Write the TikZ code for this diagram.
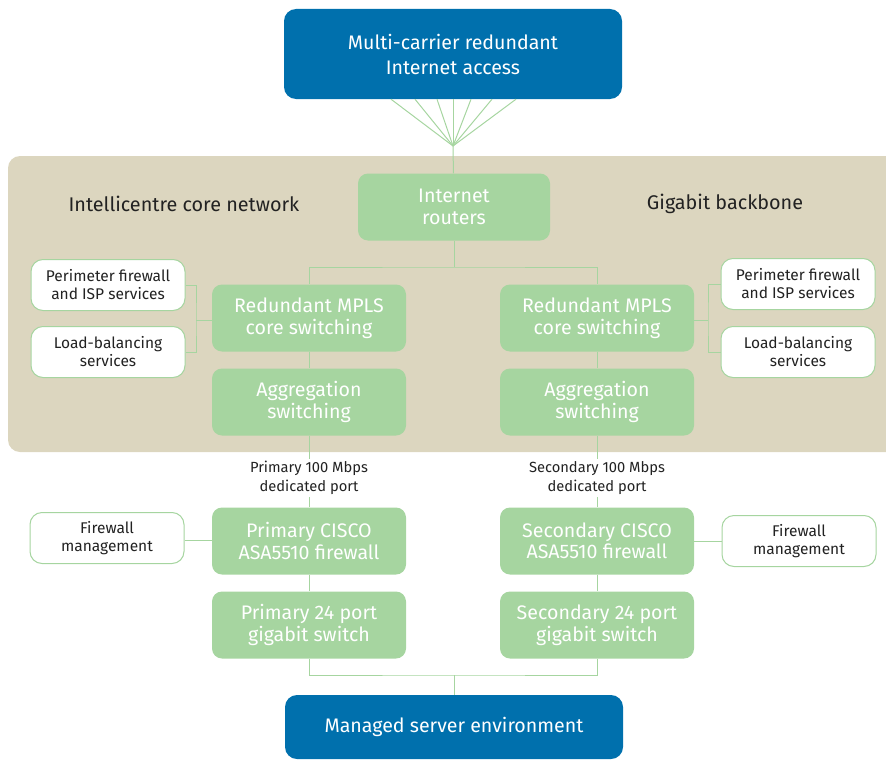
\documentclass[tikz,border=0pt]{standalone}
\usepackage{fontspec}
\setmainfont{Fira Sans}
\usetikzlibrary{positioning}
\definecolor{carrierblue}{HTML}{0070AD}
\definecolor{boxgreen}{HTML}{A6D5A0}
\definecolor{coretan}{HTML}{DCD6BF}
\definecolor{darktext}{HTML}{222222}

\begin{document}
\begin{tikzpicture}[x=1pt,y=-1pt,
    bluebox/.style={fill=carrierblue,text=white,rounded corners=12pt,minimum width=338pt,
        minimum height=90pt,align=center,font=\fontsize{19.6}{25}\selectfont},
    greenbox/.style={fill=boxgreen,text=white,rounded corners=10pt,minimum width=194pt,
        minimum height=67pt,align=center,font=\fontsize{19.6}{21.5}\selectfont},
    sidebox/.style={draw=boxgreen,line width=1pt,fill=white,text=darktext,rounded corners=12pt,
        minimum width=154pt,minimum height=51pt,align=center,font=\fontsize{15.5}{18}\selectfont},
    portlabel/.style={fill=white,text=darktext,inner sep=2pt,align=center,font=\fontsize{14.7}{19}\selectfont},
    link/.style={draw=boxgreen,line width=1pt}]
            \useasboundingbox (0,0) rectangle (886,760);

            % core network area
            \fill[coretan,rounded corners=12pt] (8,156) rectangle (910,452);
            \node[text=darktext,font=\fontsize{19.8}{22}\selectfont] (coretitle) at (184,204) {Intellicentre core network};
            \node[text=darktext,font=\fontsize{19.8}{22}\selectfont] (backbonetitle) at (725,204) {Gigabit backbone};

            \node[bluebox] (access) at (453,54) {Multi-carrier redundant\\Internet access};
            \node[greenbox,minimum width=192pt] (routers) at (454,207) {Internet\\routers};

            \node[greenbox] (mplsL) at (309,318) {Redundant MPLS\\core switching};
            \node[greenbox] (mplsR) at (597,318) {Redundant MPLS\\core switching};
            \node[greenbox] (aggL) at (309,402) {Aggregation\\switching};
            \node[greenbox] (aggR) at (597,402) {Aggregation\\switching};

            \node[sidebox] (perimL) at (108,285) {Perimeter firewall\\and ISP services};
            \node[sidebox] (loadL) at (108,352) {Load-balancing\\services};
            \node[sidebox] (perimR) at (798,284) {Perimeter firewall\\and ISP services};
            \node[sidebox] (loadR) at (798,352) {Load-balancing\\services};

            \node[portlabel] (portL) at (309,478) {Primary 100 Mbps\\dedicated port};
            \node[portlabel] (portR) at (597,478) {Secondary 100 Mbps\\dedicated port};

            \node[greenbox] (fwL) at (309,541) {Primary CISCO\\ASA5510 firewall};
            \node[greenbox] (fwR) at (597,541) {Secondary CISCO\\ASA5510 firewall};
            \node[greenbox] (swL) at (309,625) {Primary 24 port\\gigabit switch};
            \node[greenbox] (swR) at (597,625) {Secondary 24 port\\gigabit switch};

            \node[sidebox] (mgmtL) at (107,538) {Firewall\\management};
            \node[sidebox] (mgmtR) at (799,541) {Firewall\\management};

            \node[bluebox,minimum height=64pt] (servers) at (454,727) {Managed server environment};

            % fan of carrier links
            \coordinate (fan) at (453,146);
            \foreach \x in {391,415,437,453,471,492,516}
                \draw[link] (access.south -| \x,0) -- (fan);
            \draw[link] (fan) -- (routers);

            % core links
            \coordinate (split) at (454,267);
            \draw[link] (routers) -- (split);
            \draw[link] (mplsL) |- (split) -| (mplsR);
            \draw[link] (mplsL) -- (aggL) -- (portL) -- (fwL) -- (swL);
            \draw[link] (mplsR) -- (aggR) -- (portR) -- (fwR) -- (swR);

            % side services
            \draw[link] (mplsL.west |- 0,320) -- (196,320);
            \draw[link] (perimL.east) -| (196,320) |- (loadL.east);
            \draw[link] (mplsR.east |- 0,320) -- (708,320);
            \draw[link] (perimR.west) -| (708,320) |- (loadR.west);
            \draw[link] (mgmtL.east |- 0,540) -- (fwL.west |- 0,540);
            \draw[link] (fwR) -- (mgmtR);

            % server links
            \coordinate (join) at (454,675);
            \draw[link] (swL) |- (join) -| (swR);
            \draw[link] (join) -- (servers);
             \end{tikzpicture}
\end{document}
